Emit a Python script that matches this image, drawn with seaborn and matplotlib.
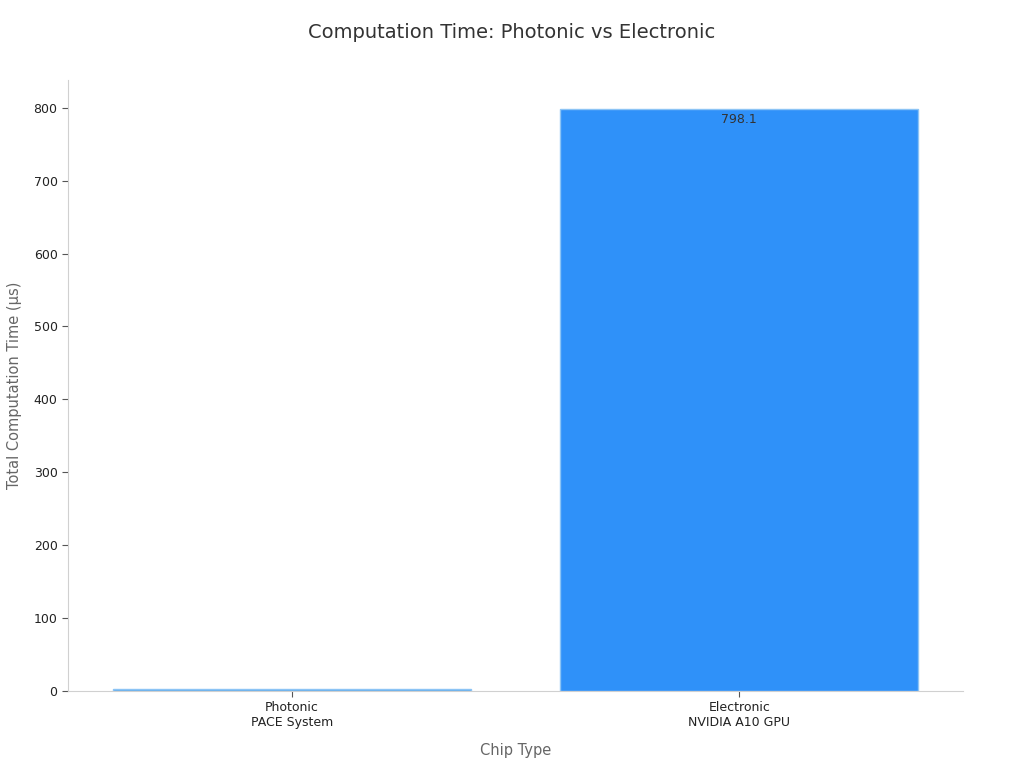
import matplotlib
matplotlib.use('Agg')
import matplotlib.pyplot as plt
import seaborn as sns
import pandas as pd

chips = ['Photonic\nPACE System', 'Electronic\nNVIDIA A10 GPU']
times = [2.6, 798.1]
bar_colors = ['#5aa9ea', '#2f91f9']

sns.set_style('white')
plt.rcParams['font.family'] = ['DejaVu Sans']

df = pd.DataFrame({'chip': chips, 'time': times})
fig = plt.figure(figsize=(10.24, 7.68), dpi=100)
ax = fig.add_axes([68/1024, 1 - 691/768, (963-68)/1024, (691-80)/768])
sns.barplot(data=df, x='chip', y='time', hue='chip', palette=bar_colors, legend=False,
            width=0.8, edgecolor='#8cc4f5', linewidth=1, saturation=1, ax=ax)

ax.set_xlim(-0.5, 1.5)
ax.set_ylim(0, 798.1 * 1.05)
ax.set_yticks(range(0, 801, 100))
for s in ['top', 'right']:
    ax.spines[s].set_visible(False)
for s in ['left', 'bottom']:
    ax.spines[s].set_color('#d0d0d0')
ax.tick_params(axis='both', colors='#555555', labelcolor='#222222', labelsize=9, length=4, width=0.8, left=True, bottom=True)
ax.set_xlabel('Chip Type', fontsize=10.5, color='#666666', labelpad=10)
ax.set_ylabel('Total Computation Time (µs)', fontsize=10.5, color='#666666', labelpad=8)
fig.suptitle('Computation Time: Photonic vs Electronic', fontsize=14, color='#333333', y=0.97)

# value label only on the electronic bar
ax.text(1, times[1] - 5, f'{times[1]:.1f}', ha='center', va='top', fontsize=9, color='#333333')

fig.savefig('out.png', dpi=100)
